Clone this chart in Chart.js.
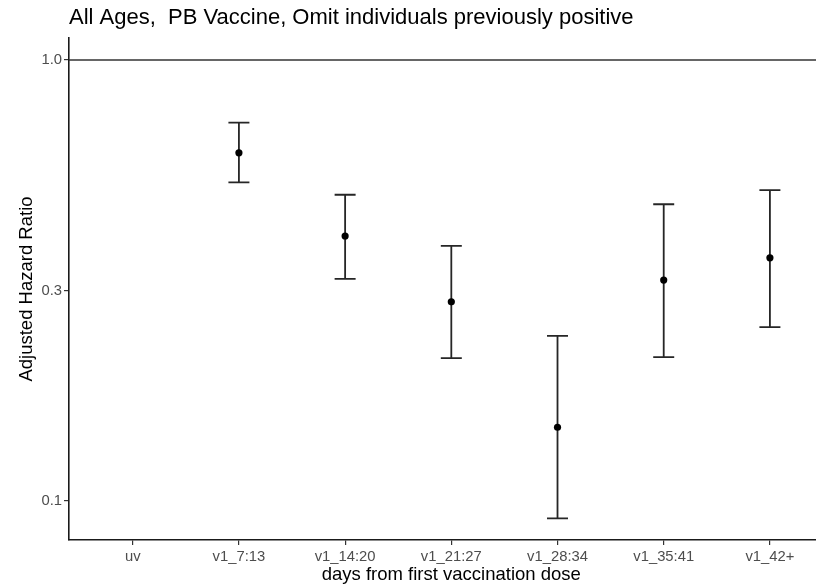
<!DOCTYPE html>
<html>
<head>
<meta charset="utf-8">
<script src="https://cdn.jsdelivr.net/npm/chart.js@4"></script>
<style>
  body { margin: 0; background: #fff; }
  canvas { display: block; }
</style>
</head>
<body>
<canvas id="hrChart" width="816" height="585"></canvas>
<script>
// Chart values
const titleText = 'All Ages,  PB Vaccine, Omit individuals previously positive';
const xTitleText = 'days from first vaccination dose';
const categories = ['uv', 'v1_7:13', 'v1_14:20', 'v1_21:27', 'v1_28:34', 'v1_35:41', 'v1_42+'];
const hazardRatio = [null, 0.616, 0.399, 0.283, 0.147, 0.317, 0.356];
const lowerCI = [null, 0.528, 0.319, 0.211, 0.0914, 0.212, 0.248];
const upperCI = [null, 0.721, 0.495, 0.379, 0.237, 0.471, 0.507];
const yTickValues = [0.1, 0.3, 1.0];
const yTickLabels = ['0.1', '0.3', '1.0'];
const referenceLine = 1.0;

const FONT = "'Liberation Sans', Arial, Helvetica, sans-serif";

// Build point data from the arrays
const points = [];
categories.forEach((c, i) => {
  if (hazardRatio[i] !== null) points.push({ x: i, y: hazardRatio[i] });
});

// Plot title aligned with the panel, x title centred on the categories (ggplot style)
const titlePlugin = {
  id: 'plotTitle',
  afterDraw(chart) {
    const ctx = chart.ctx;
    const x = chart.scales.x;
    ctx.save();
    ctx.fillStyle = '#000';
    ctx.textBaseline = 'middle';
    ctx.textAlign = 'left';
    ctx.font = '22px ' + FONT;
    ctx.fillText(titleText, chart.chartArea.left, 18, 565);

    ctx.textAlign = 'center';
    ctx.font = '18.5px ' + FONT;
    const mid = x.getPixelForValue((categories.length - 1) / 2);
    ctx.fillText(xTitleText, mid, 575);
    ctx.restore();
  }
};

// Reference line at HR = 1 and confidence interval whiskers
const errorBarPlugin = {
  id: 'errorBars',
  beforeDatasetsDraw(chart) {
    const { ctx, chartArea, scales: { x, y } } = chart;
    ctx.save();
    // horizontal line at 1.0
    const yRef = y.getPixelForValue(referenceLine);
    ctx.strokeStyle = '#333';
    ctx.lineWidth = 1.6;
    ctx.beginPath();
    ctx.moveTo(chartArea.left, yRef);
    ctx.lineTo(chartArea.right, yRef);
    ctx.stroke();

    // whiskers
    ctx.strokeStyle = '#262626';
    ctx.lineWidth = 1.8;
    const capHalf = 10.5;
    categories.forEach((c, i) => {
      if (lowerCI[i] === null) return;
      const px = x.getPixelForValue(i);
      const yLo = y.getPixelForValue(lowerCI[i]);
      const yHi = y.getPixelForValue(upperCI[i]);
      ctx.beginPath();
      ctx.moveTo(px, yLo);
      ctx.lineTo(px, yHi);
      ctx.moveTo(px - capHalf, yLo);
      ctx.lineTo(px + capHalf, yLo);
      ctx.moveTo(px - capHalf, yHi);
      ctx.lineTo(px + capHalf, yHi);
      ctx.stroke();
    });
    ctx.restore();
  }
};

const chart = new Chart(document.getElementById('hrChart'), {
  type: 'scatter',
  data: {
    datasets: [{
      label: 'Adjusted Hazard Ratio',
      data: points,
      backgroundColor: '#000',
      borderColor: '#000',
      pointRadius: 3.6,
      pointHoverRadius: 3.6,
      borderWidth: 0,
    }],
  },
  options: {
    responsive: false,
    animation: false,
    layout: {
      autoPadding: false,
      padding: { top: 38, left: 0, right: 0, bottom: 0 },
    },
    plugins: {
      legend: { display: false },
      tooltip: { enabled: false },
    },
    scales: {
      x: {
        type: 'linear',
        min: -0.6,
        max: 6.434,
        afterBuildTicks: (scale) => {
          scale.ticks = categories.map((c, i) => ({ value: i }));
        },
        afterFit: (scale) => {
          scale.height = 45;
          scale.paddingLeft = 0;
          scale.paddingRight = 0;
        },
        ticks: {
          autoSkip: false,
          maxRotation: 0,
          padding: 3,
          color: '#4d4d4d',
          font: { family: FONT, size: 14.8 },
          callback: (value) => categories[value],
        },
        grid: {
          drawOnChartArea: false,
          drawTicks: true,
          tickLength: 5,
          color: '#333',
          lineWidth: 1.2,
        },
        border: { display: true, color: '#1a1a1a', width: 1.6 },
      },
      y: {
        type: 'logarithmic',
        min: 0.0816,
        max: 1.122,
        afterBuildTicks: (scale) => {
          scale.ticks = yTickValues.map(v => ({ value: v }));
        },
        afterFit: (scale) => { scale.width = 69; },
        ticks: {
          padding: 2,
          color: '#4d4d4d',
          font: { family: FONT, size: 14.8 },
          callback: (value) => yTickLabels[yTickValues.indexOf(value)],
        },
        grid: {
          drawOnChartArea: false,
          drawTicks: true,
          tickLength: 5,
          color: '#333',
          lineWidth: 1.2,
        },
        border: { display: true, color: '#1a1a1a', width: 1.6 },
        title: {
          display: true,
          text: 'Adjusted Hazard Ratio',
          color: '#000',
          font: { family: FONT, size: 18.5, lineHeight: 1.2 },
          padding: { top: 16, bottom: 0 },
        },
      },
    },
  },
  plugins: [errorBarPlugin, titlePlugin],
});
</script>
</body>
</html>
